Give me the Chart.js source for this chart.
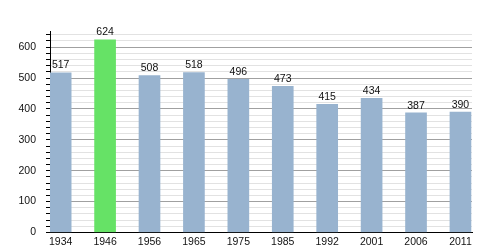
<!DOCTYPE html>
<html>
<head>
<meta charset="utf-8">
<script src="https://cdn.jsdelivr.net/npm/chart.js@4/dist/chart.umd.min.js"></script>
<style>
  html, body { margin: 0; padding: 0; background: #fff; }
  #wrap { width: 500px; height: 250px; }
</style>
</head>
<body>
<div id="wrap"><canvas id="popcnv" width="500" height="250"></canvas></div>
<script>
const years = ['1934', '1946', '1956', '1965', '1975', '1985', '1992', '2001', '2006', '2011'];
const population = [517, 624, 508, 518, 496, 473, 415, 434, 387, 390];
const highlightYear = '1946';

const blueBar = '#98b3cf';
const greenBar = '#66e266';

// value above each bar
const valueLabels = {
  id: 'valueLabels',
  afterDatasetsDraw(chart) {
    const ctx = chart.ctx;
    const meta = chart.getDatasetMeta(0);
    ctx.save();
    ctx.font = '10.5px "Liberation Sans", Arial, sans-serif';
    ctx.fillStyle = '#111';
    ctx.textAlign = 'center';
    ctx.textBaseline = 'bottom';
    meta.data.forEach((bar, i) => {
      ctx.fillText(String(population[i]), bar.x, bar.y - 2);
    });
    ctx.restore();
  }
};

const points = population.map((v, i) => ({ x: i, y: v }));

const ctx = document.getElementById('popcnv').getContext('2d');
new Chart(ctx, {
  type: 'bar',
  data: {
    datasets: [{
      data: points,
      backgroundColor: years.map(y => y === highlightYear ? greenBar : blueBar),
      borderWidth: 0,
      barThickness: 21
    }]
  },
  options: {
    responsive: false,
    animation: false,
    layout: { padding: { top: 31.7, right: 28, left: 0, bottom: 0 } },
    plugins: {
      legend: { display: false },
      tooltip: { enabled: false }
    },
    scales: {
      x: {
        type: 'linear',
        offset: false,
        min: -0.24,
        max: 9.26,
        afterBuildTicks: s => { s.ticks = years.map((_, i) => ({ value: i })); },
        afterFit: s => { s.height = 17.5; },
        grid: { display: false, drawTicks: false, offset: false },
        border: { display: true, color: '#000', width: 1 },
        ticks: {
          autoSkip: false,
          maxRotation: 0,
          padding: 3,
          color: '#111',
          font: { family: '"Liberation Sans", Arial, sans-serif', size: 10.5 },
          callback: v => years[v]
        }
      },
      y: {
        min: 0,
        max: 650,
        afterBuildTicks: s => {
          const t = [];
          for (let v = 0; v <= 640; v += 20) t.push({ value: v });
          s.ticks = t;
        },
        afterFit: s => { s.width = 50; },
        grid: {
          color: c => c.tick.value === 0 ? '#000' : (c.tick.value % 100 === 0 ? '#a0a0a0' : '#e2e2e2'),
          tickColor: '#000',
          tickLength: 4
        },
        border: { display: true, color: '#000', width: 1 },
        ticks: {
          autoSkip: false,
          padding: 10,
          color: '#111',
          font: { family: '"Liberation Sans", Arial, sans-serif', size: 10.5 },
          callback: v => v % 100 === 0 ? String(v) : ''
        }
      }
    }
  },
  plugins: [valueLabels]
});
</script>
</body>
</html>
